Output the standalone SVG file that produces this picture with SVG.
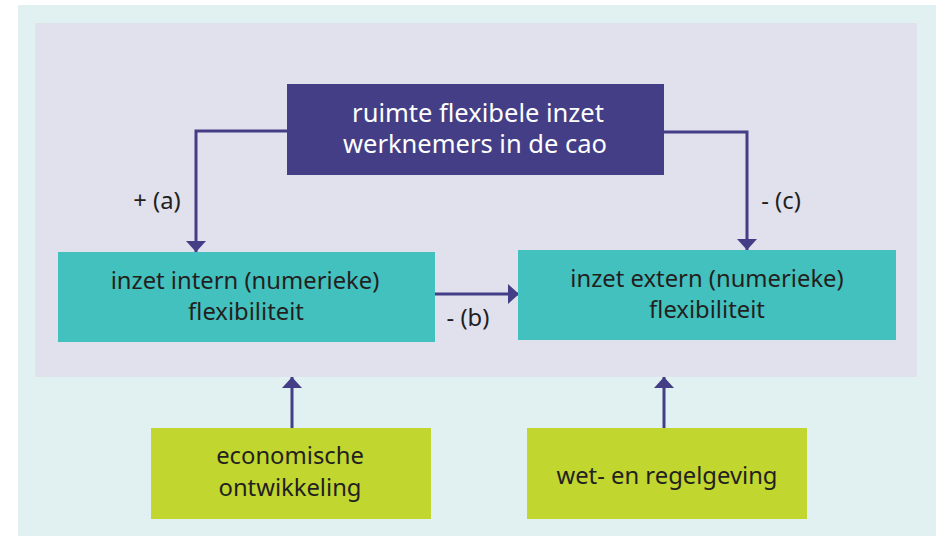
<svg xmlns="http://www.w3.org/2000/svg" width="939" height="536" viewBox="0 0 939 536">
<style>
.t{font-family:"Noto Sans","Open Sans",sans-serif;font-size:23.8px;text-anchor:middle;fill:#231f20}
.w{fill:#ffffff;font-size:25.5px}
.ln{fill:none;stroke:#433e85;stroke-width:3}
</style>
<defs>
<marker id="a" viewBox="0 0 11 20" refX="11" refY="10" markerWidth="11" markerHeight="20" orient="auto" markerUnits="userSpaceOnUse">
<path d="M0,0 L11,10 L0,20 Z" fill="#433e85"/>
</marker>
</defs>
<rect x="18" y="5" width="918" height="531" fill="#e1f1f1"/>
<rect x="35" y="23" width="882" height="354" fill="#e1e1ee"/>
<g id="connectors">
<path class="ln" d="M287,131 H196 V252" marker-end="url(#a)"/>
<path class="ln" d="M664,132 H747 V250" marker-end="url(#a)"/>
<path class="ln" d="M435,294 H519" marker-end="url(#a)"/>
<path class="ln" d="M292,428 V377" marker-end="url(#a)"/>
<path class="ln" d="M664,428 V377" marker-end="url(#a)"/>
<text class="t" x="157" y="209">+ (a)</text>
<text class="t" x="781" y="209">- (c)</text>
<text class="t" x="468" y="326">- (b)</text>
</g>
<g id="top">
<rect x="287" y="84" width="377" height="91" fill="#433e85"/>
<text class="t w" x="478" y="122">ruimte flexibele inzet</text>
<text class="t w" x="475" y="153">werknemers in de cao</text>
</g>
<g id="intern">
<rect x="58" y="252" width="377" height="90" fill="#43c1be"/>
<text class="t" x="245" y="289">inzet intern (numerieke)</text>
<text class="t" x="246" y="320">flexibiliteit</text>
</g>
<g id="extern">
<rect x="518" y="250" width="378" height="90" fill="#43c1be"/>
<text class="t" x="707" y="287">inzet extern (numerieke)</text>
<text class="t" x="707" y="318">flexibiliteit</text>
</g>
<g id="economie">
<rect x="151" y="428" width="280" height="91" fill="#c1d62e"/>
<text class="t" x="290" y="464">economische</text>
<text class="t" x="290" y="496">ontwikkeling</text>
</g>
<g id="wet">
<rect x="527" y="428" width="280" height="91" fill="#c1d62e"/>
<text class="t" x="667" y="484">wet- en regelgeving</text>
</g>
</svg>
